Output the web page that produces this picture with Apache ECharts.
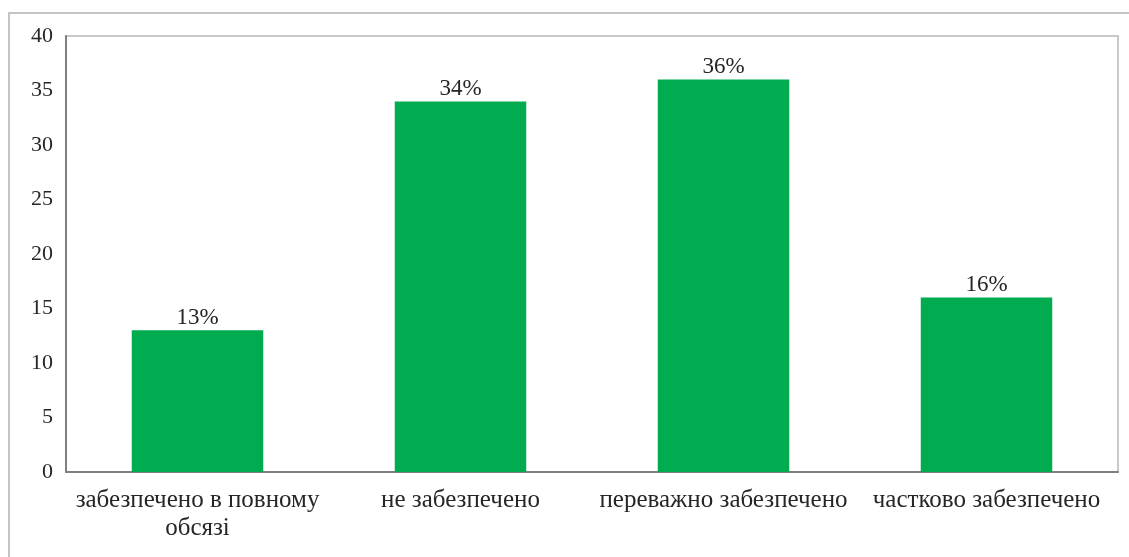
<!DOCTYPE html>
<html><head><meta charset="utf-8">
<script src="https://cdn.jsdelivr.net/npm/echarts@6/dist/echarts.min.js"></script>
<style>html,body{margin:0;padding:0;background:#fff}#c{width:1129px;height:557px}</style>
</head><body><div id="c"></div>
<script>
const categories = ['забезпечено в повному\nобсязі', 'не забезпечено', 'переважно забезпечено', 'частково забезпечено'];
const values = [13, 34, 36, 16];
const valueLabels = ['13%', '34%', '36%', '16%'];
const yTicks = [0, 5, 10, 15, 20, 25, 30, 35, 40];

const chart = echarts.init(document.getElementById('c'), null, {renderer: 'canvas'});
const font = 'Liberation Serif';
chart.setOption({
  animation: false,
  graphic: [{
    type: 'rect', shape: {x: 9, y: 13, width: 1200, height: 600},
    style: {fill: 'none', stroke: '#c4c4c4', lineWidth: 2}, silent: true, z: -1
  }],
  grid: {left: 66, right: 11, top: 36, bottom: 85, show: true, borderColor: '#c8c8c8', borderWidth: 2, backgroundColor: 'transparent'},
  xAxis: {
    type: 'category', data: categories,
    axisLine: {lineStyle: {color: '#808080', width: 2}},
    axisTick: {show: false},
    axisLabel: {color: '#262626', fontFamily: font, fontSize: 25, lineHeight: 28, margin: 14, interval: 0}
  },
  yAxis: {
    type: 'value', min: 0, max: 40, interval: 5,
    axisLine: {show: true, lineStyle: {color: '#808080', width: 2}},
    axisTick: {show: false},
    splitLine: {show: false},
    axisLabel: {color: '#262626', fontFamily: font, fontSize: 22, margin: 13,
      formatter: v => yTicks.includes(v) ? String(v) : ''}
  },
  series: [{
    type: 'bar', data: values, barWidth: '50%',
    itemStyle: {color: '#00ac4f'},
    label: {show: true, position: 'top', distance: 1, color: '#262626', fontFamily: font, fontSize: 23,
      formatter: p => valueLabels[p.dataIndex]}
  }]
});
</script></body></html>
